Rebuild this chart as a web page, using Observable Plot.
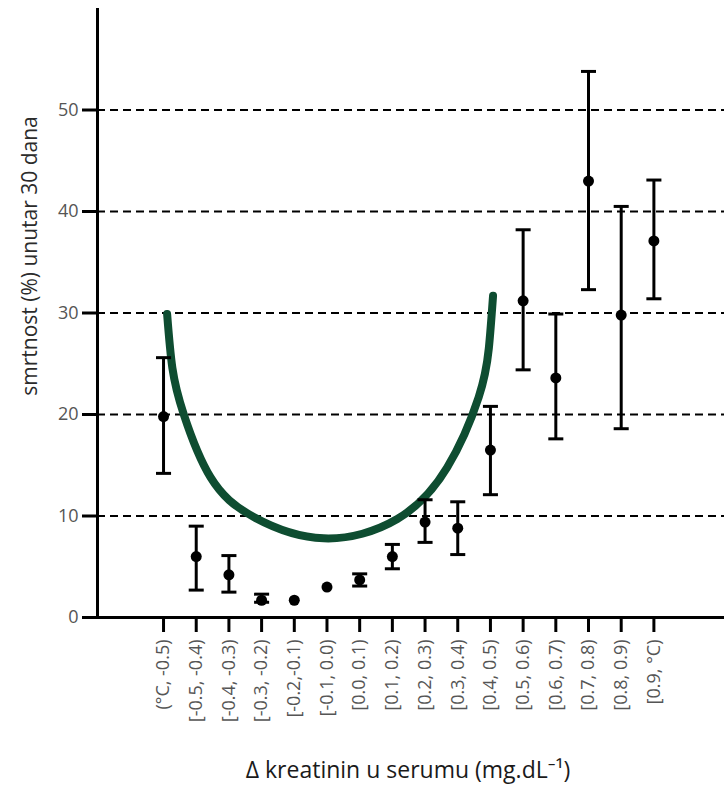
<!DOCTYPE html>
<html>
<head>
<meta charset="utf-8">
<script src="https://cdn.jsdelivr.net/npm/d3@7"></script>
<script src="https://cdn.jsdelivr.net/npm/@observablehq/plot@0.6"></script>
<style>
  html, body { margin: 0; padding: 0; background: #fff; }
  #chart svg { display: block; }
</style>
</head>
<body>
<div id="chart"></div>
<script>
// Categories (tick labels) on the x axis
const categories = ["(°C, -0.5)", "[-0.5, -0.4)", "[-0.4, -0.3)", "[-0.3, -0.2)", "[-0.2,-0.1)", "[-0.1, 0.0)", "[0.0, 0.1)", "[0.1, 0.2)", "[0.2, 0.3)", "[0.3, 0.4)", "[0.4, 0.5)", "[0.5, 0.6)", "[0.6, 0.7)", "[0.7, 0.8)", "[0.8, 0.9)", "[0.9, °C)"];
// 30-day mortality (%) point estimates
const mortality = [19.8, 6.0, 4.2, 1.7, 1.7, 3.0, 3.7, 6.0, 9.4, 8.8, 16.5, 31.2, 23.6, 43.0, 29.8, 37.1];
// Lower and upper bounds of the error bars (null = no bar visible)
const lower = [14.2, 2.7, 2.5, 1.5, null, null, 3.1, 4.8, 7.4, 6.2, 12.1, 24.4, 17.6, 32.3, 18.6, 31.4];
const upper = [25.6, 9.0, 6.1, 2.3, null, null, 4.3, 7.2, 11.6, 11.4, 20.8, 38.2, 29.9, 53.8, 40.5, 43.1];
// Green U-shaped fitted curve (position in category units, mortality %)
const curveX = [1.11, 1.27, 1.62, 2.44, 3.76, 5.9, 8.15, 9.68, 10.64, 10.95, 11.08];
const curveY = [29.9, 24.6, 20.0, 13.8, 9.9, 7.8, 9.7, 14.8, 21.7, 26.5, 31.7];
// Y tick values and gridlines
const yTicks = [0, 10, 20, 30, 40, 50];
const gridLines = [10, 20, 30, 40, 50];

const points = categories.map((c, i) => ({pos: i + 1, label: c, value: mortality[i], lo: lower[i], hi: upper[i]}));
const bars = points.filter(d => d.lo != null);
const curve = curveX.map((x, i) => ({x, y: curveY[i]}));

const xDomain = [-1.02, 18.16];
const capHalf = 0.23;
const font = "'Open Sans', 'Noto Sans', sans-serif";

const chart = Plot.plot({
  width: 724,
  height: 791,
  marginLeft: 97,
  marginRight: 0,
  marginTop: 8,
  marginBottom: 174,
  style: {fontFamily: font, background: "#fff", overflow: "visible"},
  x: {type: "linear", domain: xDomain},
  y: {domain: [0, 60]},
  marks: [
    Plot.ruleY(gridLines, {stroke: "#000", strokeWidth: 2, strokeDasharray: "8,5"}),
    Plot.axisY({
      ticks: yTicks, tickSize: 15, tickPadding: 4, fontSize: 18, label: null,
      stroke: "#000", strokeWidth: 3, color: "#555"
    }),
    Plot.axisX({
      ticks: points.map(d => d.pos), tickFormat: d => categories[d - 1],
      tickRotate: -90, tickSize: 15, tickPadding: 7, fontSize: 18, label: null,
      stroke: "#000", strokeWidth: 3, color: "#555"
    }),
    Plot.ruleX([xDomain[0]], {y1: 0, y2: 60, stroke: "#000", strokeWidth: 3}),
    Plot.ruleY([0], {stroke: "#000", strokeWidth: 3}),
    Plot.line(curve, {x: "x", y: "y", curve: "natural", stroke: "#0e4d31", strokeWidth: 8}),
    Plot.ruleX(bars, {x: "pos", y1: "lo", y2: "hi", stroke: "#000", strokeWidth: 3}),
    Plot.link(bars, {x1: d => d.pos - capHalf, x2: d => d.pos + capHalf, y1: "lo", y2: "lo", stroke: "#000", strokeWidth: 3}),
    Plot.link(bars, {x1: d => d.pos - capHalf, x2: d => d.pos + capHalf, y1: "hi", y2: "hi", stroke: "#000", strokeWidth: 3}),
    Plot.dot(points, {x: "pos", y: "value", r: 5.5, fill: "#000", stroke: "none"}),
    Plot.text(["smrtnost (%) unutar 30 dana"], {
      frameAnchor: "left", dx: -67, dy: -57, rotate: -90, fontSize: 21,
      fill: "#2b2b2b", textAnchor: "middle", lineAnchor: "middle", fontFamily: font
    }),
    Plot.text(["Δ kreatinin u serumu (mg.dL⁻¹)"], {
      frameAnchor: "bottom", dx: -3, dy: 160, fontSize: 23, fill: "#1a1a1a",
      textAnchor: "middle", lineAnchor: "bottom", fontFamily: font
    })
  ]
});
document.getElementById("chart").appendChild(chart);
</script>
</body>
</html>
